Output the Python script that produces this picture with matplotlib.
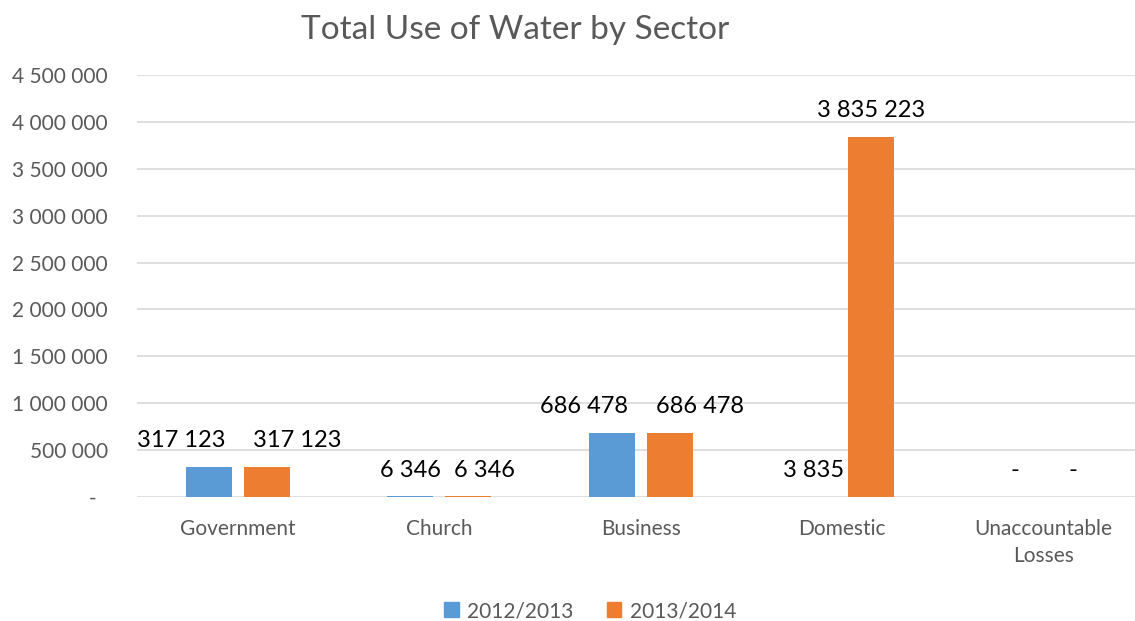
import matplotlib
matplotlib.use("Agg")
import matplotlib.pyplot as plt
import numpy as np
from matplotlib.patches import Patch

categories = ["Government", "Church", "Business", "Domestic", "Unaccountable\nLosses"]
series_names = ["2012/2013", "2013/2014"]
values_2012 = [317123, 6346, 686478, 3835, 0]
values_2013 = [317123, 6346, 686478, 3835223, 0]
yticks = [0, 500000, 1000000, 1500000, 2000000, 2500000, 3000000, 3500000, 4000000, 4500000]
title = "Total Use of Water by Sector"

colors = ["#5B9BD5", "#ED7D31"]
gray = "#595959"
FONT = "Lato"

def fmt(v):
    if v == 0:
        return "-"
    return f"{int(v):,}".replace(",", " ")

W, H = 1135, 621
fig = plt.figure(figsize=(W / 100, H / 100), dpi=100)
ax = fig.add_axes([137 / W, 1 - 497 / H, 1 - 137 / W, (497 - 75) / H])

x = np.arange(len(categories))
bw = 0.228
off = 0.143
b1 = ax.bar(x - off, values_2012, bw, color=colors[0], zorder=3)
b2 = ax.bar(x + off, values_2013, bw, color=colors[1], zorder=3)

ax.set_ylim(0, 4500000)
ax.set_xlim(-0.5, -0.5 + (W - 137) / 201.5)
ax.set_yticks(yticks)
ax.set_yticklabels([fmt(v) if v else "-  " for v in yticks], family=FONT, fontsize=15, color=gray)
ax.set_xticks(x)
ax.set_xticklabels(categories, family=FONT, fontsize=15, color=gray, linespacing=1.45)
ax.tick_params(axis="y", length=0, pad=21)
ax.tick_params(axis="x", length=0, pad=16)
for s in ax.spines.values():
    s.set_visible(False)
ax.grid(axis="y", color="#D9D9D9", linewidth=1.2, zorder=0)
ax.set_axisbelow(True)

# label placement: push apart labels that would overlap
for i in range(len(categories)):
    pair = [(b1[i], values_2012[i]), (b2[i], values_2013[i])]
    wide = len(fmt(values_2012[i])) > 5 and len(fmt(values_2013[i])) > 5 and abs(values_2012[i] - values_2013[i]) < 200000
    for k, (bar, v) in enumerate(pair):
        dx = 0
        if wide:
            dx = -20 if k == 0 else 22
        elif v == 6346 and k == 1:
            dx = 12
        ax.annotate(fmt(v), (bar.get_x() + bar.get_width() / 2, v),
                    xytext=(dx, 19), textcoords="offset points",
                    ha="center", va="center", family=FONT, fontsize=17, color="black")

fig.text(515 / W, 1 - 30 / H, title, ha="center", va="center", family=FONT,
         fontsize=24, color=gray)

handles = [Patch(color=c) for c in colors]
fig.legend(handles, series_names, loc="center", bbox_to_anchor=(590 / W, 1 - 611 / H),
           ncol=2, frameon=False, handlelength=0.7, handleheight=0.7, handletextpad=0.4,
           columnspacing=1.6, prop={"family": FONT, "size": 15}, labelcolor=gray)

fig.savefig("out.png", dpi=100)
